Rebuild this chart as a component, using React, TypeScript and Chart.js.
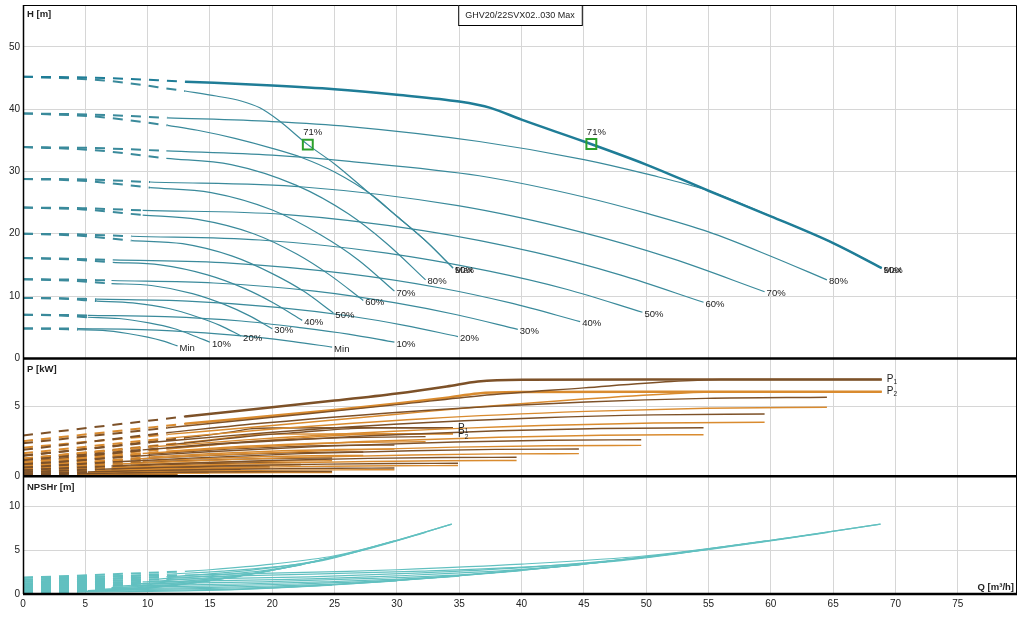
import { useEffect, useRef } from "react";
import { Chart, registerables } from "chart.js";

Chart.register(...registerables);

type Pt = [number, number];

const FONT = '"Liberation Sans", Arial, sans-serif';

// axis ticks
const Q_TICKS = [0, 5, 10, 15, 20, 25, 30, 35, 40, 45, 50, 55, 60, 65, 70, 75];
const H_TICKS = [0, 10, 20, 30, 40, 50];
const P_TICKS = [0, 5];
const NPSH_TICKS = [0, 5, 10];

const TITLE = "GHV20/22SVX02..030 Max";
// speed levels, top curve first
const LEVELS = ["Max", "90%", "80%", "70%", "60%", "50%", "40%", "30%", "20%", "10%", "Min"];

// best efficiency markers
const MARKER_Q = [22.85, 45.6];
const MARKER_H = [34.3, 34.4];
const MARKER_TEXT = "71%";

// head, one pump (dashed start + solid part)
const H_ONE_DASH: Pt[][] = [
  [[0, 45.2], [6.5, 44.6], [13, 42.9]],
  [[0, 39.3], [5.8, 38.8], [11.6, 37.4]],
  [[0, 33.9], [5.75, 33.4], [11.5, 32.1]],
  [[0, 28.8], [5.1, 28.45], [10.2, 27.4]],
  [[0, 24.2], [4.8, 23.9], [9.6, 23.0]],
  [[0, 20.0], [4.35, 19.7], [8.7, 18.9]],
  [[0, 16.1], [3.6, 15.9], [7.2, 15.4]],
  [[0, 12.7], [3.55, 12.5], [7.1, 12.0]],
  [[0, 9.7], [2.95, 9.6], [5.9, 9.2]],
  [[0, 7.0], [2.6, 6.9], [5.2, 6.6]],
  [[0, 4.8], [2.2, 4.75], [4.4, 4.6]],
];
const H_ONE: Pt[][] = [
  [[13, 42.9], [15.5, 42.1], [17.5, 41.3], [19, 40.2], [20.5, 38.2], [22.85, 34.3], [25, 31.2], [27.5, 27.0], [30, 22.8], [32.5, 18.5], [34.5, 14.5]],
  [[11.6, 37.4], [14, 36.6], [17, 35.3], [20, 33.7], [22.4, 32.2], [25, 29.9], [28, 26.2], [30, 22.8], [32.5, 18.5], [34.5, 14.5]],
  [[11.5, 32.1], [16.7, 31.1], [21.9, 27.8], [26.1, 23.2], [29.2, 18.4], [32.3, 12.6]],
  [[10.2, 27.4], [15.1, 26.6], [20, 23.8], [23.9, 19.8], [26.9, 15.8], [29.8, 10.8]],
  [[9.6, 23.0], [14, 22.3], [18.5, 20.0], [22, 16.7], [24.6, 13.4], [27.3, 9.3]],
  [[8.7, 18.9], [12.8, 18.4], [16.8, 16.4], [20, 13.6], [22.5, 10.8], [24.9, 7.3]],
  [[7.2, 15.4], [11, 15.0], [14.8, 13.4], [17.8, 11.2], [20.1, 8.9], [22.4, 6.1]],
  [[7.1, 12.0], [10.3, 11.7], [13.6, 10.4], [16.1, 8.7], [18.1, 6.9], [20, 4.75]],
  [[5.9, 9.2], [8.8, 8.9], [11.7, 8.0], [14, 6.65], [15.8, 5.3], [17.5, 3.6]],
  [[5.2, 6.6], [7.7, 6.4], [10.1, 5.7], [12.1, 4.8], [13.5, 3.8], [15, 2.6]],
  [[4.4, 4.6], [6.4, 4.5], [8.4, 4.0], [10, 3.4], [11.2, 2.8], [12.4, 2.0]],
];

// head, two pumps
const H_TWO_DASH: Pt[][] = [
  [[0, 45.2], [6.5, 45.0], [13, 44.4]],
  [[0, 39.3], [5.8, 39.1], [11.6, 38.6]],
  [[0, 33.9], [5.75, 33.75], [11.5, 33.3]],
  [[0, 28.8], [5.1, 28.7], [10.2, 28.3]],
  [[0, 24.2], [4.8, 24.1], [9.6, 23.75]],
  [[0, 20.0], [4.35, 19.9], [8.7, 19.6]],
  [[0, 16.1], [3.6, 16.0], [7.2, 15.8]],
  [[0, 12.7], [3.55, 12.65], [7.1, 12.5]],
  [[0, 9.7], [2.95, 9.65], [5.9, 9.5]],
  [[0, 7.0], [2.6, 6.97], [5.2, 6.9]],
  [[0, 4.8], [2.2, 4.8], [4.4, 4.77]],
];
const H_TWO: Pt[][] = [
  [[13, 44.4], [20, 43.8], [25, 43.2], [30, 42.3], [35, 41.2], [37.5, 40.2], [40, 38.3], [45, 34.8], [50, 31.1], [55, 26.9], [60, 22.8], [65, 18.5], [68.9, 14.5]],
  [[11.6, 38.6], [20, 38.0], [26.2, 37.2], [36.6, 34.8], [45, 31.9], [50, 29.6], [55, 26.9], [60, 22.8], [65, 18.5], [68.9, 14.5]],
  [[11.5, 33.3], [20, 32.6], [26.2, 31.6], [36.6, 29.3], [45, 25.9], [50, 23.3], [55, 20.3], [60, 16.4], [64.5, 12.6]],
  [[10.2, 28.3], [22.5, 27.5], [34.9, 24.5], [44.7, 20.3], [52.1, 16.0], [59.5, 10.7]],
  [[9.6, 23.75], [20.9, 23.1], [32.1, 20.5], [41.1, 17.0], [47.9, 13.4], [54.6, 9.0]],
  [[8.7, 19.6], [19, 19.0], [29.2, 16.9], [37.4, 14.0], [43.6, 11.1], [49.7, 7.4]],
  [[7.2, 15.8], [16.6, 15.3], [26, 13.6], [33.5, 11.3], [39.1, 8.9], [44.7, 5.9]],
  [[7.1, 12.5], [15.3, 12.1], [23.4, 10.8], [29.9, 8.9], [34.8, 7.0], [39.7, 4.66]],
  [[5.9, 9.5], [13.2, 9.2], [20.4, 8.2], [26.2, 6.8], [30.6, 5.3], [34.9, 3.5]],
  [[5.2, 6.9], [11.4, 6.7], [17.5, 6.0], [22.4, 4.9], [26.1, 3.9], [29.8, 2.6]],
  [[4.4, 4.77], [9.5, 4.63], [14.6, 4.1], [18.7, 3.4], [21.7, 2.7], [24.8, 1.8]],
];

// power at zero flow
const P1_ONE_0 = [1.45, 1.175, 0.94, 0.735, 0.57, 0.425, 0.31, 0.215, 0.145, 0.09, 0.05];
const P2_ONE_0 = [1.25, 1.015, 0.815, 0.635, 0.49, 0.37, 0.265, 0.185, 0.125, 0.075, 0.045];
const P1_TWO_0 = [2.9, 2.35, 1.88, 1.47, 1.14, 0.85, 0.62, 0.43, 0.29, 0.18, 0.1];
const P2_TWO_0 = [2.5, 2.03, 1.63, 1.27, 0.98, 0.74, 0.53, 0.37, 0.25, 0.15, 0.09];

const P1_ONE: Pt[][] = [
  [[13, 2.74], [15, 2.95], [17, 3.2], [18.2, 3.375], [20, 3.44], [25, 3.45], [34.5, 3.45]],
  [[11.6, 2.23], [15, 2.55], [18.35, 2.87], [22.5, 3.15], [26, 3.375], [28, 3.45], [34.5, 3.45]],
  [[11.5, 2.04], [16.1, 2.35], [22.6, 2.65], [27.4, 2.77], [32.3, 2.82]],
  [[10.2, 1.58], [14.9, 1.85], [20.8, 2.09], [25.3, 2.19], [29.8, 2.22]],
  [[9.6, 1.24], [13.65, 1.44], [19.1, 1.62], [23.2, 1.7], [27.3, 1.73]],
  [[8.7, 0.93], [12.4, 1.08], [17.4, 1.22], [21.1, 1.28], [24.8, 1.3]],
  [[7.2, 0.67], [11.15, 0.81], [15.6, 0.91], [19, 0.955], [22.3, 0.97]],
  [[7.1, 0.49], [9.9, 0.56], [13.9, 0.63], [16.8, 0.665], [19.8, 0.675]],
  [[5.9, 0.32], [8.7, 0.38], [12.2, 0.43], [14.8, 0.45], [17.45, 0.46]],
  [[5.2, 0.205], [7.45, 0.24], [10.4, 0.27], [12.7, 0.285], [14.9, 0.29]],
  [[4.4, 0.12], [6.2, 0.14], [8.7, 0.16], [10.5, 0.167], [12.4, 0.17]],
];
const P2_ONE: Pt[][] = [
  [[13, 2.4], [15, 2.59], [17, 2.8], [18.2, 2.95], [20, 3.0], [25, 3.01], [34.5, 3.015]],
  [[11.6, 1.94], [15, 2.21], [18.35, 2.48], [22.5, 2.75], [26, 2.94], [28, 3.01], [34.5, 3.015]],
  [[11.5, 1.78], [16.1, 2.05], [22.6, 2.31], [27.4, 2.42], [32.3, 2.46]],
  [[10.2, 1.37], [14.9, 1.6], [20.8, 1.81], [25.3, 1.9], [29.8, 1.93]],
  [[9.6, 1.06], [13.65, 1.23], [19.1, 1.39], [23.2, 1.46], [27.3, 1.48]],
  [[8.7, 0.79], [12.4, 0.92], [17.4, 1.03], [21.1, 1.08], [24.8, 1.1]],
  [[7.2, 0.56], [11.15, 0.67], [15.6, 0.76], [19, 0.79], [22.3, 0.805]],
  [[7.1, 0.405], [9.9, 0.465], [13.9, 0.525], [16.8, 0.55], [19.8, 0.56]],
  [[5.9, 0.27], [8.7, 0.32], [12.2, 0.355], [14.8, 0.375], [17.45, 0.38]],
  [[5.2, 0.165], [7.45, 0.19], [10.4, 0.215], [12.7, 0.225], [14.9, 0.23]],
  [[4.4, 0.095], [6.2, 0.11], [8.7, 0.122], [10.5, 0.128], [12.4, 0.13]],
];
const P1_TWO: Pt[][] = [
  [[13, 4.26], [25, 5.39], [30, 5.9], [34, 6.4], [36.5, 6.75], [40, 6.88], [50, 6.9], [68.9, 6.9]],
  [[11.6, 3.45], [20, 4.2], [30, 5.1], [36.7, 5.74], [45, 6.3], [52, 6.75], [56, 6.9], [68.9, 6.9]],
  [[11.5, 3.1], [19.35, 3.79], [32.25, 4.69], [45.15, 5.29], [54.8, 5.55], [64.5, 5.63]],
  [[10.2, 2.4], [17.85, 2.98], [29.75, 3.7], [41.65, 4.17], [50.6, 4.37], [59.5, 4.44]],
  [[9.6, 1.88], [16.4, 2.32], [27.3, 2.87], [38.2, 3.24], [46.4, 3.4], [54.6, 3.45]],
  [[8.7, 1.41], [14.9, 1.74], [24.8, 2.16], [34.7, 2.44], [42.2, 2.56], [49.6, 2.6]],
  [[7.2, 1.01], [13.4, 1.29], [22.3, 1.61], [31.2, 1.82], [37.9, 1.91], [44.6, 1.94]],
  [[7.1, 0.73], [11.9, 0.9], [19.8, 1.12], [27.7, 1.27], [33.7, 1.33], [39.6, 1.35]],
  [[5.9, 0.49], [10.5, 0.61], [17.45, 0.76], [24.4, 0.86], [29.7, 0.91], [34.9, 0.92]],
  [[5.2, 0.31], [8.9, 0.38], [14.9, 0.48], [20.9, 0.54], [25.3, 0.57], [29.8, 0.58]],
  [[4.4, 0.18], [7.4, 0.22], [12.4, 0.28], [17.4, 0.32], [21.1, 0.335], [24.8, 0.34]],
];
const P2_TWO: Pt[][] = [
  [[13, 3.74], [25, 4.72], [30, 5.18], [34, 5.6], [36.5, 5.9], [40, 6.0], [50, 6.03], [68.9, 6.03]],
  [[11.6, 2.98], [20, 3.62], [30, 4.42], [36.7, 4.95], [45, 5.5], [52, 5.88], [56, 6.02], [68.9, 6.03]],
  [[11.5, 2.7], [19.35, 3.31], [32.25, 4.1], [45.15, 4.62], [54.8, 4.85], [64.5, 4.92]],
  [[10.2, 2.08], [17.85, 2.59], [29.75, 3.21], [41.65, 3.62], [50.6, 3.79], [59.5, 3.85]],
  [[9.6, 1.62], [16.4, 1.99], [27.3, 2.47], [38.2, 2.78], [46.4, 2.92], [54.6, 2.96]],
  [[8.7, 1.21], [14.9, 1.49], [24.8, 1.84], [34.7, 2.07], [42.2, 2.17], [49.6, 2.2]],
  [[7.2, 0.85], [13.4, 1.08], [22.3, 1.34], [31.2, 1.51], [37.9, 1.59], [44.6, 1.61]],
  [[7.1, 0.615], [11.9, 0.75], [19.8, 0.93], [27.7, 1.05], [33.7, 1.1], [39.6, 1.12]],
  [[5.9, 0.41], [10.5, 0.51], [17.45, 0.63], [24.4, 0.71], [29.7, 0.75], [34.9, 0.76]],
  [[5.2, 0.25], [8.9, 0.31], [14.9, 0.38], [20.9, 0.43], [25.3, 0.45], [29.8, 0.46]],
  [[4.4, 0.145], [7.4, 0.18], [12.4, 0.22], [17.4, 0.245], [21.1, 0.256], [24.8, 0.26]],
];

// NPSHr at zero flow, then curves
const N_ZERO = [1.85, 1.61, 1.39, 1.18, 0.99, 0.82, 0.66, 0.52, 0.4, 0.29, 0.2];
const N_ONE: Pt[][] = [
  [[13, 2.57], [15, 2.76], [20, 3.4], [25, 4.35], [30, 6.1], [34.4, 7.95]],
  [[11.6, 2.25], [16, 2.6], [20, 3.05], [24, 3.8], [28, 5.3], [30, 6.1], [34.4, 7.95]],
  [[11.5, 1.95], [16, 2.4], [20, 3.0], [24, 3.9], [28, 5.25], [32.3, 7.0]],
  [[10.2, 1.63], [15, 2.07], [20, 2.8], [25, 4.2], [29.8, 6.05]],
  [[9.6, 1.38], [14, 1.77], [18, 2.27], [22, 3.26], [27.3, 5.03]],
  [[8.7, 1.14], [12, 1.37], [16, 1.83], [20, 2.7], [24.9, 4.16]],
  [[7.2, 0.89], [11, 1.14], [15, 1.57], [18, 2.2], [22.4, 3.35]],
  [[7.1, 0.73], [10, 0.91], [13, 1.19], [16, 1.74], [20, 2.67]],
  [[5.9, 0.55], [9, 0.71], [12, 0.99], [14, 1.33], [17.5, 2.04]],
  [[5.2, 0.4], [8, 0.53], [10, 0.7], [12, 0.98], [15, 1.49]],
  [[4.4, 0.28], [6.5, 0.36], [8.5, 0.49], [10, 0.67], [12.4, 1.02]],
];
const N_TWO: Pt[][] = [
  [[13, 2.15], [26, 2.57], [30, 2.76], [40, 3.4], [50, 4.35], [60, 6.1], [68.8, 7.95]],
  [[11.6, 1.9], [23.2, 2.25], [32, 2.6], [40, 3.05], [48, 3.8], [56, 5.3], [60, 6.1], [68.8, 7.95]],
  [[11.5, 1.65], [23, 1.95], [32, 2.4], [40, 3.0], [48, 3.9], [56, 5.25], [64.6, 7.0]],
  [[10.2, 1.38], [20.4, 1.63], [30, 2.07], [40, 2.8], [50, 4.2], [59.6, 6.05]],
  [[9.6, 1.16], [19.2, 1.38], [28, 1.77], [36, 2.27], [44, 3.26], [54.6, 5.03]],
  [[8.7, 0.96], [17.4, 1.14], [24, 1.37], [32, 1.83], [40, 2.7], [49.8, 4.16]],
  [[7.2, 0.76], [14.4, 0.89], [22, 1.14], [30, 1.57], [36, 2.2], [44.8, 3.35]],
  [[7.1, 0.61], [14.2, 0.73], [20, 0.91], [26, 1.19], [32, 1.74], [40, 2.67]],
  [[5.9, 0.46], [11.8, 0.55], [18, 0.71], [24, 0.99], [28, 1.33], [35, 2.04]],
  [[5.2, 0.33], [10.4, 0.4], [16, 0.53], [20, 0.7], [24, 0.98], [30, 1.49]],
  [[4.4, 0.23], [8.8, 0.28], [13, 0.36], [17, 0.49], [20, 0.67], [24.8, 1.02]],
];

const H_COLOR = "#3a8a9b";
const H_BOLD = "#1f7d97";
const P1_COLOR = "#7d5128";
const P2_COLOR = "#d98b2f";
const N_COLOR = "#62c0c0";
const GRID = "#d6d6d6";
const DASH = [10, 8];

function line(pts: Pt[], axis: string, color: string, width: number, dash: number[] = []) {
  return {
    data: pts.map(([x, y]) => ({ x, y })),
    yAxisID: axis,
    borderColor: color,
    borderWidth: width,
    borderDash: dash,
    pointRadius: 0,
    fill: false,
    cubicInterpolationMode: "monotone",
  };
}

function buildDatasets() {
  const ds: any[] = [];
  ds.push({
    data: MARKER_Q.map((x, i) => ({ x, y: MARKER_H[i] })),
    yAxisID: "yH",
    showLine: false,
    pointStyle: "rect",
    pointRadius: 7,
    pointBorderWidth: 2,
    pointBorderColor: "#2ca02c",
    pointBackgroundColor: "rgba(0,0,0,0)",
  });
  H_TWO.forEach((c, i) => ds.push(line(c, "yH", i === 0 ? H_BOLD : H_COLOR, i === 0 ? 2.5 : 1.2)));
  H_ONE.forEach((c) => ds.push(line(c, "yH", H_COLOR, 1.2)));
  H_TWO_DASH.forEach((c, i) => ds.push(line(c, "yH", i === 0 ? H_BOLD : H_COLOR, 2, DASH)));
  H_ONE_DASH.forEach((c) => ds.push(line(c, "yH", H_COLOR, 2, DASH)));

  P1_TWO.forEach((c, i) => ds.push(line(c, "yP", P1_COLOR, i === 0 ? 2.5 : 1.4)));
  P2_TWO.forEach((c, i) => ds.push(line(c, "yP", P2_COLOR, i === 0 ? 2.5 : 1.4)));
  P1_ONE.forEach((c) => ds.push(line(c, "yP", P1_COLOR, 1.4)));
  P2_ONE.forEach((c) => ds.push(line(c, "yP", P2_COLOR, 1.4)));
  P1_TWO.forEach((c, i) => ds.push(line([[0, P1_TWO_0[i]], c[0]], "yP", P1_COLOR, 2, DASH)));
  P2_TWO.forEach((c, i) => ds.push(line([[0, P2_TWO_0[i]], c[0]], "yP", P2_COLOR, 2, DASH)));
  P1_ONE.forEach((c, i) => ds.push(line([[0, P1_ONE_0[i]], c[0]], "yP", P1_COLOR, 2, DASH)));
  P2_ONE.forEach((c, i) => ds.push(line([[0, P2_ONE_0[i]], c[0]], "yP", P2_COLOR, 2, DASH)));

  N_TWO.forEach((c) => ds.push(line(c, "yN", N_COLOR, 1.2)));
  N_ONE.forEach((c) => ds.push(line(c, "yN", N_COLOR, 1.2)));
  N_TWO.forEach((c, i) => ds.push(line([[0, N_ZERO[i]], c[0]], "yN", N_COLOR, 2, DASH)));
  N_ONE.forEach((c, i) => ds.push(line([[0, N_ZERO[i]], c[0]], "yN", N_COLOR, 2, DASH)));
  return ds;
}

const overlay = {
  id: "overlay",
  afterDatasetsDraw(chart: any) {
    const { ctx, chartArea: a, scales } = chart;
    const x = scales.x, yH = scales.yH, yP = scales.yP, yN = scales.yN;
    ctx.save();

    // frame and panel separators
    ctx.strokeStyle = "#000";
    ctx.lineWidth = 1;
    ctx.beginPath();
    ctx.moveTo(a.left, a.top + 0.5);
    ctx.lineTo(a.right - 0.5, a.top + 0.5);
    ctx.lineTo(a.right - 0.5, a.bottom);
    ctx.stroke();
    ctx.lineWidth = 1.5;
    ctx.beginPath();
    ctx.moveTo(a.left + 0.5, a.top);
    ctx.lineTo(a.left + 0.5, a.bottom);
    ctx.stroke();
    ctx.lineWidth = 2.5;
    [yH.getPixelForValue(0), yP.getPixelForValue(0), yN.getPixelForValue(0)].forEach((py: number) => {
      ctx.beginPath();
      ctx.moveTo(a.left, py);
      ctx.lineTo(a.right, py);
      ctx.stroke();
    });

    // curve end labels
    ctx.fillStyle = "#222";
    ctx.font = `9.5px ${FONT}`;
    ctx.textAlign = "left";
    ctx.textBaseline = "middle";
    [H_ONE, H_TWO].forEach((set) =>
      set.forEach((c, i) => {
        const [q, h] = c[c.length - 1];
        ctx.fillText(LEVELS[i], x.getPixelForValue(q) + 2, yH.getPixelForValue(h) + 2);
      })
    );

    // efficiency labels
    ctx.textAlign = "center";
    MARKER_Q.forEach((q, i) => {
      ctx.fillText(MARKER_TEXT, x.getPixelForValue(q) + 5, yH.getPixelForValue(MARKER_H[i]) - 12);
    });

    // P1 / P2 labels
    const pLabel = (n: string, c: Pt[]) => {
      const [q, p] = c[c.length - 1];
      const px = x.getPixelForValue(q) + 5;
      const py = yP.getPixelForValue(p);
      ctx.textAlign = "left";
      ctx.font = `10px ${FONT}`;
      ctx.fillText("P", px, py);
      const w = ctx.measureText("P").width;
      ctx.font = `6.5px ${FONT}`;
      ctx.fillText(n, px + w, py + 3);
    };
    pLabel("1", P1_TWO[0]);
    pLabel("2", P2_TWO[0]);
    pLabel("1", P1_ONE[0]);
    pLabel("2", P2_ONE[0]);

    // axis titles
    ctx.font = `bold 9.5px ${FONT}`;
    ctx.textAlign = "left";
    ctx.fillText("H [m]", a.left + 4, a.top + 9);
    ctx.fillText("P [kW]", a.left + 4, yH.getPixelForValue(0) + 11);
    ctx.fillText("NPSHr [m]", a.left + 4, yP.getPixelForValue(0) + 11);
    ctx.textAlign = "right";
    ctx.fillText("Q [m³/h]", a.right - 3, a.bottom - 7);

    // title box
    ctx.font = `9px ${FONT}`;
    const tw = ctx.measureText(TITLE).width + 14;
    const cx = (a.left + a.right) / 2;
    ctx.fillStyle = "#fff";
    ctx.fillRect(cx - tw / 2, a.top, tw, 20);
    ctx.lineWidth = 1;
    ctx.strokeRect(cx - tw / 2 + 0.5, a.top + 0.5, tw, 20);
    ctx.fillStyle = "#222";
    ctx.textAlign = "center";
    ctx.fillText(TITLE, cx, a.top + 10.5);

    ctx.restore();
  },
};

const tickFont = { family: FONT, size: 10 };

function yAxis(ticks: number[], max: number, weight: number) {
  return {
    type: "linear",
    position: "left",
    stack: "pump",
    stackWeight: weight,
    min: 0,
    max,
    afterBuildTicks: (s: any) => {
      s.ticks = ticks.map((v) => ({ value: v }));
    },
    afterFit: (s: any) => {
      s.width = 23;
      s.paddingTop = 0;
      s.paddingBottom = 0;
    },
    ticks: { font: tickFont, color: "#222", padding: 3, autoSkip: false },
    grid: { color: GRID, drawTicks: false },
    border: { display: false },
  };
}

export default function App() {
  const canvasRef = useRef<HTMLCanvasElement>(null);

  useEffect(() => {
    document.body.style.margin = "0";
    if (!canvasRef.current) return;
    const chart = new Chart(canvasRef.current, {
      type: "line",
      data: { datasets: buildDatasets() },
      options: {
        responsive: false,
        animation: false,
        parsing: false,
        events: [],
        layout: { autoPadding: false, padding: { top: 5, right: 10, left: 0, bottom: 0 } },
        plugins: { legend: { display: false }, tooltip: { enabled: false } },
        scales: {
          x: {
            type: "linear",
            min: 0,
            max: 79.75,
            afterBuildTicks: (s: any) => {
              s.ticks = Q_TICKS.map((v) => ({ value: v }));
            },
            afterFit: (s: any) => {
              s.height = 23;
              s.paddingLeft = 0;
              s.paddingRight = 0;
            },
            ticks: { font: tickFont, color: "#222", padding: 4, maxRotation: 0, autoSkip: false },
            grid: { color: GRID, drawTicks: false },
            border: { display: false },
          },
          yN: yAxis(NPSH_TICKS, 13.4, 1),
          yP: yAxis(P_TICKS, 8.4, 1),
          yH: yAxis(H_TICKS, 56.7, 3),
        },
      } as any,
      plugins: [overlay],
    });
    return () => chart.destroy();
  }, []);

  return (
    <div style={{ width: 1027, height: 617, overflow: "hidden", background: "#fff" }}>
      <canvas ref={canvasRef} width={1027} height={617} style={{ display: "block" }} />
    </div>
  );
}
